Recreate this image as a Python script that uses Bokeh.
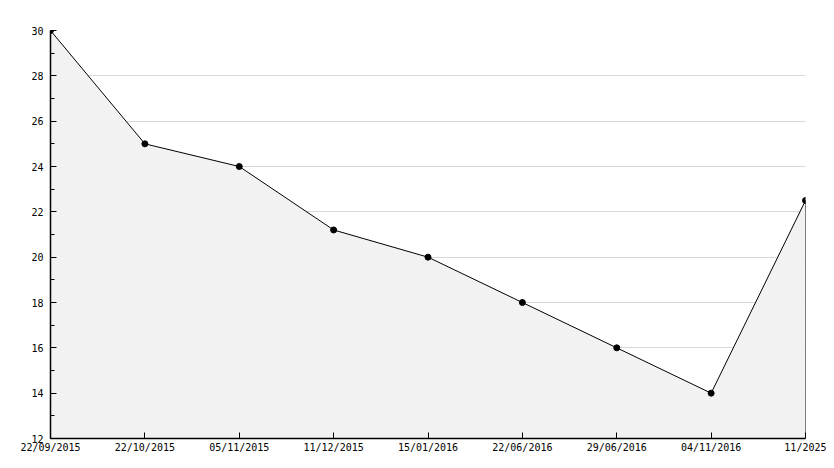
from bokeh.plotting import figure
from bokeh.models import FixedTicker, SingleIntervalTicker, Range1d
from bokeh.embed import file_html
from bokeh.resources import INLINE

dates = ["22/09/2015", "22/10/2015", "05/11/2015", "11/12/2015", "15/01/2016",
         "22/06/2016", "29/06/2016", "04/11/2016", "11/2025"]
values = [30, 25, 24, 21.2, 20, 18, 16, 14, 22.5]
y_min, y_max = 12, 30

xs = list(range(len(dates)))

p = figure(width=826, height=460, output_backend="svg", toolbar_location=None,
           x_range=Range1d(0, len(dates) - 1), y_range=Range1d(y_min, y_max),
           min_border_left=50, min_border_right=21, min_border_top=30, min_border_bottom=22)
p.outline_line_color = None
p.background_fill_color = "white"

p.varea(x=xs, y1=[y_min] * len(xs), y2=values, fill_color="#f2f2f2")
p.line(xs, values, line_color="black", line_width=1)
p.segment(x0=[xs[-1]], y0=[y_min], x1=[xs[-1]], y1=[values[-1]], line_color="black", line_width=1)
p.scatter(xs, values, size=6, marker="circle", fill_color="black", line_color="black")

p.xgrid.grid_line_color = None
p.ygrid.grid_line_color = "#d9d9d9"

p.xaxis.ticker = FixedTicker(ticks=xs)
p.xaxis.major_label_overrides = {i: d for i, d in enumerate(dates)}
p.yaxis.ticker = SingleIntervalTicker(interval=2, num_minor_ticks=2)

for ax in (p.xaxis[0], p.yaxis[0]):
    ax.axis_line_color = "black"
    ax.axis_line_width = 1.5
    ax.major_tick_in = 6
    ax.major_tick_out = 0
    ax.minor_tick_in = 4
    ax.minor_tick_out = 0
    ax.major_tick_line_color = "black"
    ax.major_label_text_font = "DejaVu Sans Mono"
    ax.major_label_text_font_size = "10px"
    ax.major_label_text_color = "black"

p.xaxis.minor_tick_line_color = None
p.xaxis.major_label_standoff = 3
p.yaxis.major_label_standoff = 7

open("out.html", "w").write(file_html(p, INLINE))
